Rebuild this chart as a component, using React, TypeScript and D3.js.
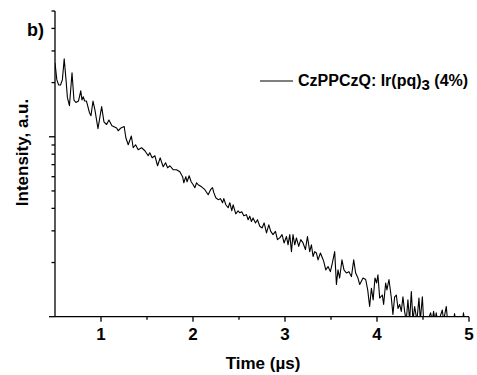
import React from "react";
import * as d3 from "d3";

// Time (µs) and intensity (a.u.)
const timeUs = [0.500,0.520,0.540,0.560,0.580,0.600,0.620,0.635,0.657,0.685,0.706,0.728,0.755,0.780,0.793,0.807,0.822,0.842,0.875,0.891,0.913,0.934,0.967,1.007,1.032,1.061,1.086,1.119,1.170,1.187,1.217,1.252,1.270,1.296,1.330,1.350,1.376,1.404,1.441,1.477,1.513,1.530,1.556,1.586,1.615,1.643,1.676,1.702,1.724,1.749,1.784,1.821,1.857,1.887,1.900,1.922,1.936,1.958,1.980,2.002,2.020,2.039,2.056,2.093,2.129,2.165,2.191,2.212,2.226,2.248,2.273,2.299,2.321,2.335,2.357,2.382,2.400,2.422,2.436,2.465,2.490,2.509,2.530,2.552,2.581,2.599,2.617,2.635,2.653,2.679,2.701,2.726,2.751,2.773,2.799,2.824,2.845,2.870,2.896,2.918,2.943,2.968,2.990,3.016,3.033,3.052,3.070,3.087,3.106,3.124,3.149,3.171,3.196,3.222,3.244,3.269,3.287,3.305,3.323,3.341,3.359,3.385,3.407,3.421,3.443,3.468,3.493,3.515,3.540,3.559,3.576,3.594,3.619,3.641,3.667,3.695,3.722,3.747,3.768,3.793,3.812,3.848,3.877,3.899,3.920,3.939,3.958,3.978,3.996,4.010,4.029,4.058,4.072,4.094,4.108,4.130,4.156,4.173,4.192,4.210,4.228,4.246,4.264,4.282,4.300,4.318,4.336,4.355,4.373,4.391,4.409,4.434,4.456,4.471,4.493,4.507,4.550,4.583,4.600,4.615,4.631,4.644,4.658,4.680,4.710,4.724,4.753,4.767,4.832,4.843,4.854,4.930,4.940,4.951,5.000];

const intensity = [2.58,2.07,1.94,1.94,2.07,2.71,2.07,1.65,1.49,2.27,1.60,1.55,1.58,1.80,1.60,1.67,1.58,1.58,1.36,1.31,1.58,1.41,1.11,1.47,1.21,1.17,1.24,1.15,1.12,1.08,1.12,1.14,0.987,0.903,1.01,0.869,0.903,0.847,0.869,0.836,0.784,0.815,0.764,0.784,0.690,0.764,0.681,0.717,0.672,0.690,0.656,0.656,0.639,0.600,0.555,0.600,0.562,0.607,0.562,0.541,0.521,0.555,0.541,0.527,0.508,0.476,0.508,0.521,0.489,0.458,0.447,0.453,0.430,0.453,0.419,0.403,0.430,0.388,0.419,0.373,0.388,0.378,0.383,0.364,0.369,0.346,0.362,0.338,0.354,0.332,0.346,0.318,0.311,0.332,0.292,0.324,0.298,0.286,0.298,0.268,0.274,0.286,0.257,0.279,0.251,0.286,0.230,0.286,0.251,0.274,0.246,0.268,0.257,0.236,0.279,0.230,0.251,0.216,0.230,0.226,0.207,0.226,0.212,0.203,0.182,0.190,0.178,0.199,0.230,0.151,0.182,0.164,0.207,0.182,0.175,0.178,0.167,0.207,0.175,0.164,0.151,0.164,0.161,0.141,0.114,0.144,0.124,0.164,0.154,0.171,0.127,0.132,0.117,0.154,0.141,0.161,0.127,0.103,0.129,0.132,0.111,0.117,0.107,0.129,0.107,0.095,0.124,0.095,0.138,0.095,0.114,0.095,0.127,0.095,0.129,0.095,0.095,0.105,0.095,0.107,0.095,0.105,0.095,0.098,0.109,0.095,0.114,0.095,0.095,0.104,0.095,0.095,0.105,0.095,0.095];

const xMajorTicks = [1, 2, 3, 4, 5];
const xMinorTicks = [1.5, 2.5, 3.5, 4.5];
const yMajorTicks = [0.1, 1];
const yMinorTicks = [0.2, 0.3, 0.4, 0.5, 0.6, 0.7, 0.8, 0.9, 2, 3, 4, 5];
const xTitle = "Time (µs)";
const yTitle = "Intensity, a.u.";
const panelLabel = "b)";
const legendMain = "CzPPCzQ: Ir(pq)";
const legendSub = "3";
const legendTail = " (4%)";

const W = 477;
const H = 375;
const left = 55;
const right = 469;
const top = 11;
const bottom = 316.7;
const FONT = "'Liberation Sans', Arial, Helvetica, sans-serif";

export default function App() {
  const x = d3.scaleLinear().domain([0.5, 5]).range([left, right]);
  const y = d3.scaleLog().domain([0.1, 5]).range([bottom, top]);
  const data = timeUs.map((t, i) => ({ t, v: intensity[i] }));
  const line = d3
    .line<{ t: number; v: number }>()
    .x((d) => x(d.t))
    .y((d) => y(d.v));

  return (
    <svg
      width={W}
      height={H}
      viewBox={`0 0 ${W} ${H}`}
      style={{ position: "absolute", left: 0, top: 0, background: "#fff" }}
      fontFamily={FONT}
    >
      <defs>
        <clipPath id="plotClip">
          <rect x={left} y={top - 5} width={right - left + 2} height={bottom - top + 5} />
        </clipPath>
      </defs>
      <rect x={0} y={0} width={W} height={H} fill="#fff" />

      <path
        d={line(data) || ""}
        fill="none"
        stroke="#000"
        strokeWidth={1.1}
        strokeLinejoin="round"
        clipPath="url(#plotClip)"
      />

      {/* axes */}
      <g stroke="#000" strokeWidth={1.3} fill="none">
        <line x1={left} x2={left} y1={y(5)} y2={bottom} />
        <line x1={left} x2={right} y1={bottom} y2={bottom} />
        {yMajorTicks.map((v) => (
          <line key={"ym" + v} x1={left - 6} x2={left} y1={y(v)} y2={y(v)} />
        ))}
        {yMinorTicks.map((v) => (
          <line key={"yn" + v} x1={left - 3.5} x2={left} y1={y(v)} y2={y(v)} />
        ))}
        {xMajorTicks.map((v) => (
          <line key={"xm" + v} x1={x(v)} x2={x(v)} y1={bottom} y2={bottom + 5} />
        ))}
        {xMinorTicks.map((v) => (
          <line key={"xn" + v} x1={x(v)} x2={x(v)} y1={bottom} y2={bottom + 3} />
        ))}
      </g>

      {xMajorTicks.map((v) => (
        <text
          key={"xl" + v}
          x={x(v)}
          y={339.5}
          textAnchor="middle"
          fontSize={17}
          fontWeight="bold"
        >
          {v}
        </text>
      ))}

      <text x={263} y={369} textAnchor="middle" fontSize={17} fontWeight="bold">
        {xTitle}
      </text>
      <text
        transform={`translate(28,152.5) rotate(-90)`}
        textAnchor="middle"
        fontSize={17}
        fontWeight="bold"
      >
        {yTitle}
      </text>
      <text x={27} y={36} fontSize={18} fontWeight="bold">
        {panelLabel}
      </text>

      {/* legend */}
      <line x1={260} x2={293} y1={81} y2={81} stroke="#000" strokeWidth={1.1} />
      <text x={298} y={86} fontSize={16} fontWeight="bold">
        {legendMain}
        <tspan fontSize={15} dy={4}>
          {legendSub}
        </tspan>
        <tspan dy={-4}>{legendTail}</tspan>
      </text>
    </svg>
  );
}
